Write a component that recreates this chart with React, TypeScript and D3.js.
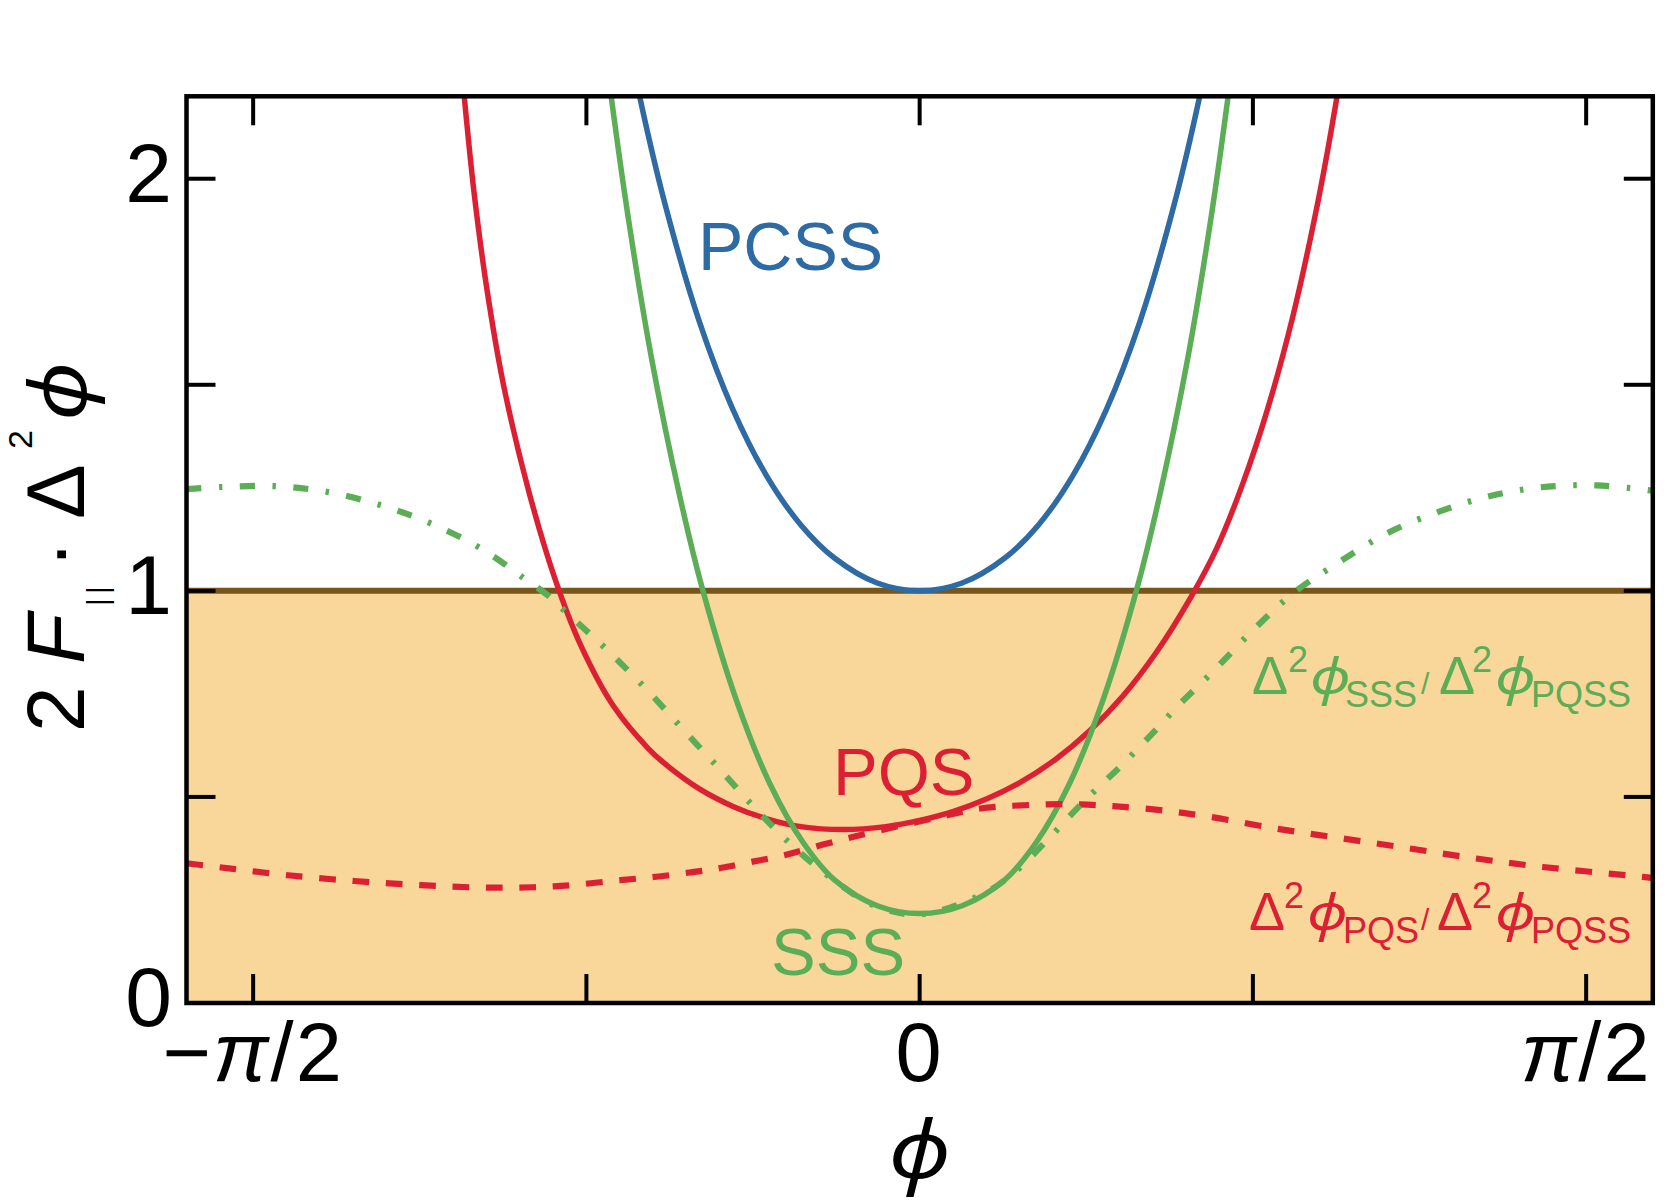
import React from "react";
import * as d3 from "d3";

// ---------- data ----------
const phiPCSS = [-0.72, -0.66, -0.60, -0.52, -0.44, -0.36, -0.28, -0.20, -0.10, 0, 0.10, 0.20, 0.28, 0.36, 0.44, 0.52, 0.60, 0.66, 0.72];
const valPCSS = [2.513, 2.2, 1.938, 1.656, 1.44, 1.278, 1.16, 1.079, 1.019, 1.0, 1.019, 1.079, 1.16, 1.278, 1.44, 1.656, 1.938, 2.2, 2.513];

const phiSSS = [-0.77, -0.727, -0.683, -0.632, -0.565, -0.512, -0.432, -0.353, -0.275, -0.20, -0.10, 0, 0.10, 0.20, 0.275, 0.353, 0.432, 0.512, 0.565, 0.632, 0.683, 0.727, 0.77];
const valSSS = [2.56, 2.2, 1.88, 1.565, 1.228, 1.005, 0.735, 0.532, 0.39, 0.298, 0.236, 0.217, 0.236, 0.298, 0.39, 0.532, 0.735, 1.005, 1.228, 1.565, 1.88, 2.2, 2.56];

const phiPQS = [-1.10, -1.07, -1.05, -1.02, -0.98, -0.92, -0.86, -0.80, -0.72, -0.64, -0.60, -0.52, -0.44, -0.36, -0.28, -0.18, -0.08, 0, 0.08, 0.16, 0.24, 0.32, 0.40, 0.48, 0.56, 0.64, 0.70, 0.76, 0.82, 0.88, 0.94, 0.98, 1.02];
const valPQS = [2.495, 2.164, 1.965, 1.733, 1.496, 1.237, 1.031, 0.871, 0.718, 0.618, 0.58, 0.52, 0.477, 0.447, 0.428, 0.421, 0.428, 0.443, 0.465, 0.496, 0.537, 0.591, 0.66, 0.746, 0.854, 0.986, 1.103, 1.256, 1.441, 1.668, 1.951, 2.177, 2.437];

const phiRatioSSS = [-1.728, -1.646, -1.517, -1.395, -1.27, -1.152, -1.034, -0.932, -0.877, -0.83, -0.736, -0.642, -0.556, -0.469, -0.391, -0.297, -0.202, -0.108, 0, 0.1507, 0.229, 0.3077, 0.386, 0.48, 0.567, 0.606, 0.692, 0.786, 0.88, 0.983, 1.1, 1.218, 1.336, 1.461, 1.595, 1.728];
const valRatioSSS = [1.247, 1.252, 1.254, 1.24, 1.208, 1.1635, 1.103, 1.03, 0.9896, 0.945, 0.856, 0.759, 0.662, 0.565, 0.476, 0.379, 0.298, 0.237, 0.215, 0.2655, 0.322, 0.403, 0.488, 0.581, 0.674, 0.718, 0.805, 0.905, 0.994, 1.066, 1.139, 1.19, 1.228, 1.251, 1.256, 1.243];

const phiRatioPQS = [-1.728, -1.623, -1.489, -1.332, -1.175, -1.018, -0.8615, -0.705, -0.61, -0.532, -0.477, -0.3985, -0.32, -0.218, -0.0925, 0.0645, 0.143, 0.3, 0.378, 0.457, 0.567, 0.685, 0.841, 0.998, 1.155, 1.312, 1.469, 1.704, 1.728];
const valRatioPQS = [0.339, 0.326, 0.31, 0.296, 0.286, 0.28, 0.283, 0.298, 0.3075, 0.318, 0.326, 0.342, 0.3585, 0.387, 0.419, 0.4556, 0.472, 0.482, 0.482, 0.4775, 0.468, 0.4515, 0.423, 0.399, 0.375, 0.3505, 0.33, 0.306, 0.303];

const xDomain = [-1.1 * Math.PI / 2, 1.1 * Math.PI / 2];
const yDomain = [0, 2.2];
const xTicks = [-Math.PI / 2, -Math.PI / 4, 0, Math.PI / 4, Math.PI / 2];
const xTickLabels = ["−π/2", "", "0", "", "π/2"];
const yTicks = [0, 0.5, 1, 1.5, 2];
const yTickLabels = ["0", "", "1", "", "2"];
const shadeBand = [0, 1];

const C_RED = "#DC2034";
const C_BLUE = "#2E6AA3";
const C_GREEN = "#5BAD56";
const C_BROWN = "#7A5519";
const C_FILL = "#F9D699";
const FONT = "'Liberation Sans', Arial, Helvetica, sans-serif";
const PHI_FONT = "'Noto Sans', 'DejaVu Sans', sans-serif";
const PHI = "\u03D5";

function RatioLabel({ y, color, num, xs }: { y: number; color: string; num: string; xs: number[] }) {
  return (
    <g fill={color}>
      <text x={xs[0]} y={y} fontSize={54}>Δ</text>
      <text x={xs[1]} y={y - 22} fontSize={36}>2</text>
      <text transform={`translate(${xs[2]},${y}) scale(1.2,1)`} fontSize={50} fontStyle="italic" fontFamily={PHI_FONT}>{PHI}</text>
      <text x={xs[3]} y={y + 12.5} fontSize={36}>{num}</text>
      <text x={xs[4]} y={y} fontSize={30}>/</text>
      <text x={xs[5]} y={y} fontSize={54}>Δ</text>
      <text x={xs[6]} y={y - 22} fontSize={36}>2</text>
      <text transform={`translate(${xs[7]},${y}) scale(1.2,1)`} fontSize={50} fontStyle="italic" fontFamily={PHI_FONT}>{PHI}</text>
      <text x={xs[8]} y={y + 12.5} fontSize={36}>PQSS</text>
    </g>
  );
}

export default function App() {
  const W = 1667, H = 1201;
  const L = 186.5, R = 1652.8, T = 96.3, B = 1003;
  const x = d3.scaleLinear().domain(xDomain).range([L, R]);
  const y = d3.scaleLinear().domain(yDomain).range([B, T]);

  const mk = (px: number[], py: number[]) =>
    d3.line<number>().x((_, i) => x(px[i])).y((_, i) => y(py[i])).curve(d3.curveCatmullRom.alpha(0.5))(px) || "";

  const tickLen = 29;
  const yt = "translate(84,732) rotate(-90)";

  return (
    <svg width={W} height={H} style={{ position: "absolute", left: 0, top: 0, background: "#fff" }} fontFamily={FONT}>
      <defs>
        <clipPath id="plotClip">
          <rect x={L} y={T} width={R - L} height={B - T} />
        </clipPath>
      </defs>
      <rect x={0} y={0} width={W} height={H} fill="#fff" />

      <g clipPath="url(#plotClip)">
        <rect x={L} y={y(shadeBand[1])} width={R - L} height={y(shadeBand[0]) - y(shadeBand[1])} fill={C_FILL} />
        <line x1={L} x2={R} y1={y(shadeBand[1])} y2={y(shadeBand[1])} stroke={C_BROWN} strokeWidth={6} />
        <path d={mk(phiPCSS, valPCSS)} fill="none" stroke={C_BLUE} strokeWidth={5.5} />
        <path d={mk(phiPQS, valPQS)} fill="none" stroke={C_RED} strokeWidth={5.5} />
        <path d={mk(phiSSS, valSSS)} fill="none" stroke={C_GREEN} strokeWidth={5.5} />
        <path d={mk(phiRatioPQS, valRatioPQS)} fill="none" stroke={C_RED} strokeWidth={6.2} strokeDasharray="16.7,16.7" />
        <path d={mk(phiRatioSSS, valRatioSSS)} fill="none" stroke={C_GREEN} strokeWidth={6.2} strokeDasharray="15,17.5,3.5,17.5" />
      </g>

      {/* ticks */}
      <g stroke="#000" strokeWidth={4}>
        {xTicks.map((t, i) => (
          <g key={"xt" + i}>
            <line x1={x(t)} x2={x(t)} y1={B} y2={B - tickLen} />
            <line x1={x(t)} x2={x(t)} y1={T} y2={T + tickLen} />
          </g>
        ))}
        {yTicks.map((t, i) => (
          <g key={"yt" + i}>
            <line x1={L} x2={L + tickLen} y1={y(t)} y2={y(t)} />
            <line x1={R} x2={R - tickLen} y1={y(t)} y2={y(t)} />
          </g>
        ))}
      </g>
      <rect x={L} y={T} width={R - L} height={B - T} fill="none" stroke="#000" strokeWidth={4.5} />

      {/* tick labels */}
      {yTicks.map((t, i) => (
        <text key={"yl" + i} x={172} y={y(t) + 23} fontSize={84} textAnchor="end" fill="#000">{yTickLabels[i]}</text>
      ))}
      {xTicks.map((t, i) => {
        const lab = xTickLabels[i];
        if (!lab) return null;
        const parts = lab.split("π");
        return (
          <text key={"xl" + i} x={x(t)} y={1081} fontSize={83} letterSpacing={2} textAnchor="middle" fill="#000">
            {parts.length > 1 ? (
              <>
                <tspan>{parts[0]}</tspan>
                <tspan fontStyle="italic">π</tspan>
                <tspan>{parts[1]}</tspan>
              </>
            ) : lab}
          </text>
        );
      })}

      {/* axis titles */}
      <text transform={`translate(${x(0)},1178) scale(1.15,1)`} fontSize={80} fontStyle="italic" fontFamily={PHI_FONT} textAnchor="middle" fill="#000">{PHI}</text>

      <g fill="#000">
        <text transform={yt} fontSize={82}>
          <tspan x={0}>2</tspan>
          <tspan x={68} fontStyle="italic">F</tspan>
          <tspan x={126} fontSize={30} dy={23.5}>|</tspan>
          <tspan x={138} fontSize={30}>|</tspan>
          <tspan x={164} dy={-23.5}>·</tspan>
          <tspan x={213}>Δ</tspan>
          <tspan x={283} fontSize={34} dy={-52}>2</tspan>
        </text>
        <text transform="translate(86,732) rotate(-90) translate(311,0) scale(1.12,1)" fontSize={78} fontStyle="italic" fontFamily={PHI_FONT}>{PHI}</text>
      </g>

      {/* curve labels */}
      <text x={698} y={270} fontSize={68} fill={C_BLUE}>PCSS</text>
      <text x={833} y={795} fontSize={67} fill={C_RED}>PQS</text>
      <text x={771} y={975} fontSize={67} fill={C_GREEN}>SSS</text>

      <RatioLabel y={694} color={C_GREEN} num="SSS" xs={[1252, 1288, 1310, 1345, 1421, 1439, 1472, 1495, 1531]} />
      <RatioLabel y={930} color={C_RED} num="PQS" xs={[1249, 1284, 1307, 1343, 1421, 1437, 1472, 1495, 1531]} />
    </svg>
  );
}
